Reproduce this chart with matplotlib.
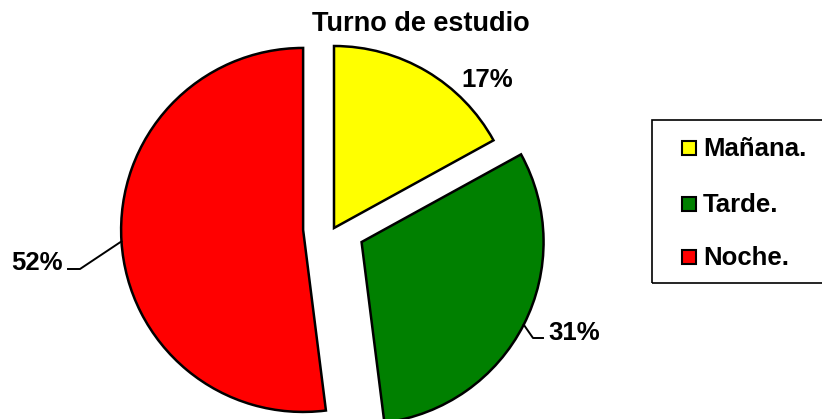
import matplotlib.pyplot as plt
import numpy as np
from matplotlib.patches import Rectangle

plt.rcParams['font.family'] = ['Liberation Sans', 'DejaVu Sans']

# data
turnos = ['Mañana.', 'Tarde.', 'Noche.']
porcentajes = [17, 31, 52]
colores = ['#FFFF00', '#008000', '#FF0000']
separacion = [0, 0.17, 0.17]

W, H = 822, 419
fig = plt.figure(figsize=(W / 100, H / 100), dpi=100)
ax = fig.add_axes([0, 0, 1, 1])

# pie centre / radius in pixels
cx, cy, R = 334, 228, 182


def px(x, y):
    # pixel -> data coords (radius 1)
    return (x - cx) / R, (cy - y) / R


wedges, _ = ax.pie(porcentajes, colors=colores, explode=separacion,
                   startangle=90, counterclock=False, radius=1,
                   wedgeprops=dict(edgecolor='black', linewidth=1.8))
ax.set_xlim(-cx / R, (W - cx) / R)
ax.set_ylim(-(H - cy) / R, cy / R)
ax.set_aspect('auto')
ax.axis('off')


def edge_point(w):
    a = np.deg2rad((w.theta1 + w.theta2) / 2)
    return w.center[0] + w.r * np.cos(a), w.center[1] + w.r * np.sin(a)


fs = 18.5
# 17% label
x, y = px(487, 87)
ax.text(x, y, f'{porcentajes[0]}%', ha='center', va='baseline',
        fontsize=fs, fontweight='bold')

# 31% label with leader
p0 = edge_point(wedges[1])
p1 = px(533, 338)
p2 = px(543, 338)
ax.plot([p0[0], p1[0], p2[0]], [p0[1], p1[1], p2[1]], color='black', lw=1.4)
x, y = px(548, 340)
ax.text(x, y, f'{porcentajes[1]}%', ha='left', va='baseline',
        fontsize=fs, fontweight='bold')

# 52% label with leader
p0 = edge_point(wedges[2])
p1 = px(80, 269)
p2 = px(68, 269)
ax.plot([p0[0], p1[0], p2[0]], [p0[1], p1[1], p2[1]], color='black', lw=1.4)
x, y = px(63, 270)
ax.text(x, y, f'{porcentajes[2]}%', ha='right', va='baseline',
        fontsize=fs, fontweight='bold')

# title
fig.text(421 / W, 1 - 31 / H, 'Turno de estudio', ha='center', va='baseline',
         fontsize=19.5, fontweight='bold')

# legend box (runs off the right edge)
fig.patches.append(Rectangle((652 / W, 1 - 283 / H), 200 / W, 163 / H,
                             transform=fig.transFigure, facecolor='none',
                             edgecolor='black', linewidth=1.2))
ys = [156, 212, 265]
for lab, col, yb in zip(turnos, colores, ys):
    fig.patches.append(Rectangle((682 / W, 1 - (yb - 1) / H), 14 / W, 14 / H,
                                 transform=fig.transFigure, facecolor=col,
                                 edgecolor='black', linewidth=1.5))
    fig.text(703 / W, 1 - yb / H, lab, ha='left', va='baseline',
             fontsize=fs, fontweight='bold')

fig.savefig('out.png', dpi=100)
